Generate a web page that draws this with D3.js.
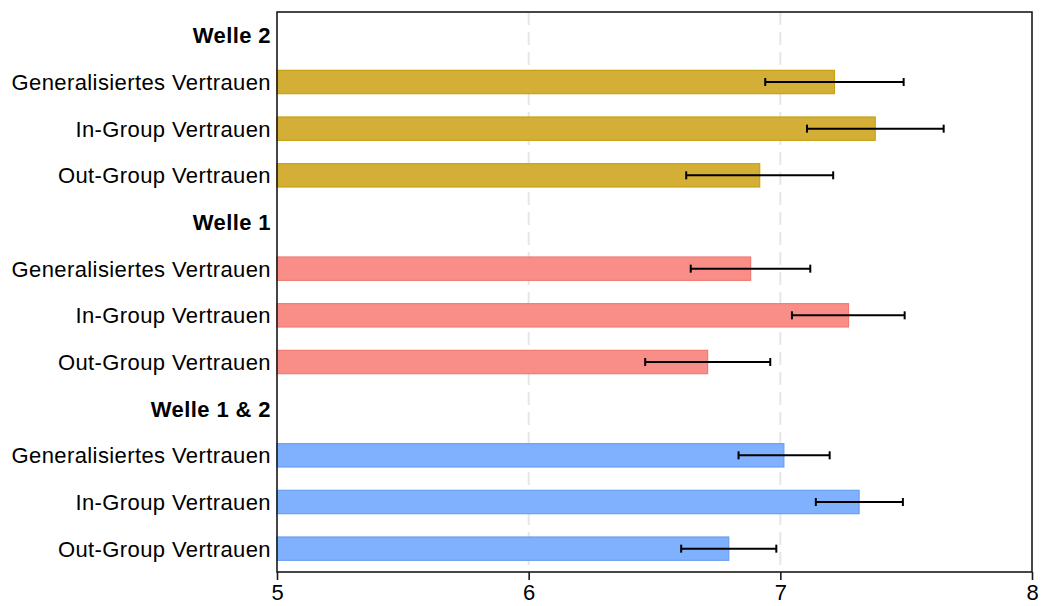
<!DOCTYPE html>
<html>
<head>
<meta charset="utf-8">
<script src="https://cdn.jsdelivr.net/npm/d3@7/dist/d3.min.js"></script>
<style>
  html, body { margin: 0; padding: 0; background: #fff; }
  svg { display: block; font-family: "Liberation Sans", Arial, Helvetica, sans-serif; }
</style>
</head>
<body>
<svg id="chart" width="1041" height="606"></svg>
<script>
// Trust measures (means with confidence intervals) per survey wave
const groups = ["Welle 2", "Welle 1", "Welle 1 & 2"];
const categories = ["Generalisiertes Vertrauen", "In-Group Vertrauen", "Out-Group Vertrauen"];

const meansW2  = [7.215, 7.377, 6.918];
const lowerW2  = [6.94, 7.106, 6.626];
const upperW2  = [7.49, 7.649, 7.21];

const meansW1  = [6.882, 7.271, 6.711];
const lowerW1  = [6.644, 7.046, 6.463];
const upperW1  = [7.119, 7.494, 6.96];

const meansW12 = [7.014, 7.313, 6.795];
const lowerW12 = [6.834, 7.141, 6.606];
const upperW12 = [7.196, 7.487, 6.984];

const xTicks = [5, 6, 7, 8];
const xDomain = [5, 8];

const fills   = ["#D4AF37", "#F98E89", "#80B1FE"];
const strokes = ["#C9A00E", "#F27A72", "#6B9FF2"];

const seriesMeans = [meansW2, meansW1, meansW12];
const seriesLower = [lowerW2, lowerW1, lowerW12];
const seriesUpper = [upperW2, upperW1, upperW12];

// One row per group header followed by its three measures
const rows = [];
groups.forEach((g, gi) => {
  rows.push({ id: g, label: g, header: true, gi });
  categories.forEach((c, ci) => {
    rows.push({
      id: g + "|" + c, label: c, header: false, gi,
      mean: seriesMeans[gi][ci], lo: seriesLower[gi][ci], hi: seriesUpper[gi][ci]
    });
  });
});

const svg = d3.select("#chart");
const margin = { left: 277, right: 9, top: 12, bottom: 34 };
const W = 1041, H = 606;
const plotW = W - margin.left - margin.right;
const plotH = H - margin.top - margin.bottom;

const x = d3.scaleLinear().domain(xDomain).range([0, plotW]);
const y = d3.scaleBand().domain(rows.map(r => r.id)).range([0, plotH])
  .paddingInner(0.5).paddingOuter(0.25);

const g = svg.append("g").attr("transform", `translate(${margin.left},${margin.top})`);

// dashed vertical grid lines at inner ticks
g.append("g").selectAll("line")
  .data(xTicks.filter(t => t > xDomain[0] && t < xDomain[1]))
  .join("line")
  .attr("x1", d => x(d)).attr("x2", d => x(d))
  .attr("y1", 0).attr("y2", plotH)
  .attr("stroke", "#e6e6e6").attr("stroke-width", 2)
  .attr("stroke-dasharray", "13,7");

const dataRows = rows.filter(r => !r.header);

// bars
g.append("g").selectAll("rect")
  .data(dataRows)
  .join("rect")
  .attr("x", x(xDomain[0]))
  .attr("y", d => y(d.id))
  .attr("width", d => x(d.mean) - x(xDomain[0]))
  .attr("height", y.bandwidth())
  .attr("fill", d => fills[d.gi])
  .attr("stroke", d => strokes[d.gi])
  .attr("stroke-width", 1.2);

// error bars
const eb = g.append("g").selectAll("g").data(dataRows).join("g")
  .attr("transform", d => `translate(0,${y(d.id) + y.bandwidth() / 2})`);
eb.append("line")
  .attr("x1", d => x(d.lo)).attr("x2", d => x(d.hi))
  .attr("y1", 0).attr("y2", 0)
  .attr("stroke", "#000").attr("stroke-width", 2);
eb.selectAll("line.cap").data(d => [d.lo, d.hi]).join("line")
  .attr("class", "cap")
  .attr("x1", v => x(v)).attr("x2", v => x(v))
  .attr("y1", -4).attr("y2", 4)
  .attr("stroke", "#000").attr("stroke-width", 2);

// row labels
g.append("g").selectAll("text")
  .data(rows)
  .join("text")
  .attr("x", -6)
  .attr("y", d => y(d.id) + y.bandwidth() / 2)
  .attr("dy", "0.36em")
  .attr("text-anchor", "end")
  .attr("font-size", 22)
  .attr("letter-spacing", 0.4)
  .attr("font-weight", d => d.header ? "bold" : "normal")
  .attr("fill", "#000")
  .text(d => d.label);

// frame
g.append("rect")
  .attr("x", 0).attr("y", 0).attr("width", plotW).attr("height", plotH)
  .attr("fill", "none").attr("stroke", "#1a1a1a").attr("stroke-width", 1.6);

// bottom axis
const xAxis = g.append("g").attr("transform", `translate(0,${plotH})`)
  .call(d3.axisBottom(x).tickValues(xTicks).tickFormat(d3.format("d")).tickSize(8).tickPadding(4));
xAxis.select(".domain").remove();
xAxis.selectAll(".tick line").attr("stroke", "#1a1a1a").attr("stroke-width", 1.6);
xAxis.selectAll(".tick text")
  .attr("font-size", 22).attr("fill", "#000")
  .attr("font-family", "'Liberation Sans', Arial, Helvetica, sans-serif");
</script>
</body>
</html>
